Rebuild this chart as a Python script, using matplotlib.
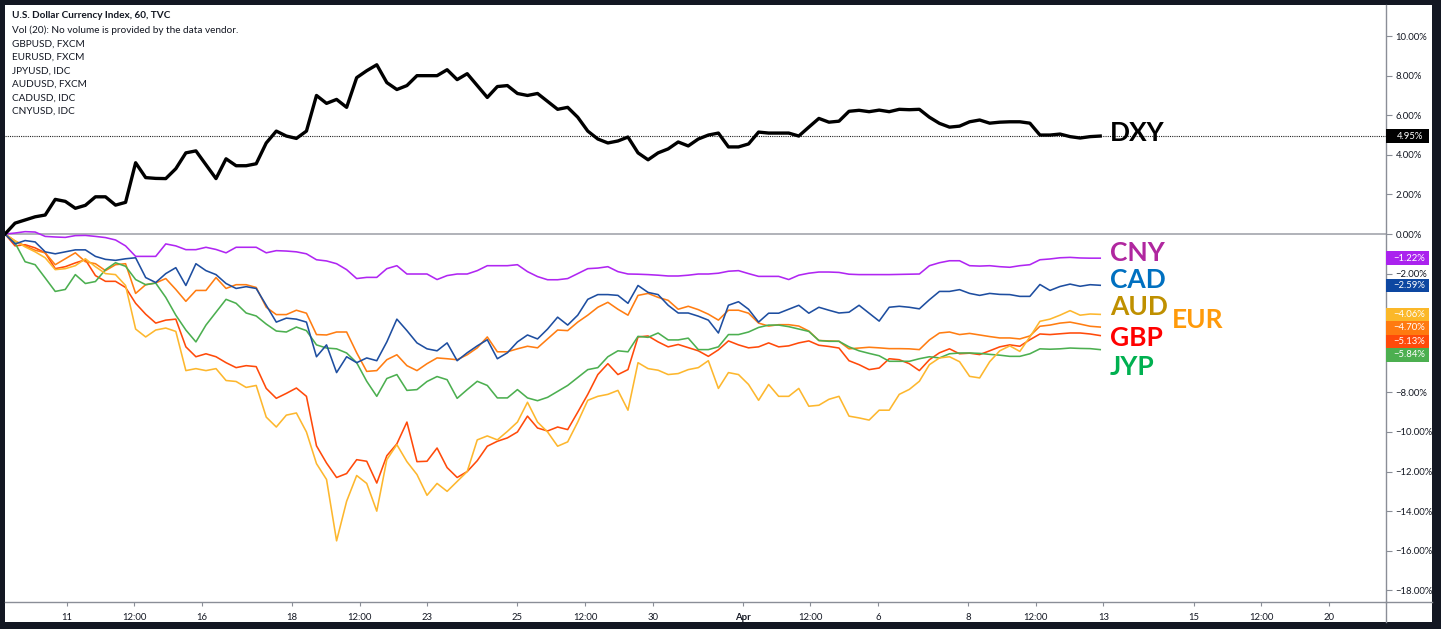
import numpy as np
import matplotlib
matplotlib.use('Agg')
import matplotlib.pyplot as plt
from matplotlib.patches import Rectangle
from matplotlib.lines import Line2D
from matplotlib.transforms import blended_transform_factory

# ---------------- data (percent change, hourly chart) ----------------
# time axis in trading days: 0 = 11 Mar 00:00 ; series sampled evenly from start to last bar
t_start, t_end = -1.367, 22.93

dxy = [0.0, 0.55, 0.71, 0.87, 0.96, 1.75, 1.65, 1.30, 1.45, 1.88,
       1.88, 1.46, 1.6, 3.6, 2.85, 2.81, 2.8, 3.3, 4.1, 4.2,
       3.5, 2.8, 3.8, 3.45, 3.45, 3.55, 4.6, 5.2, 4.95, 4.83,
       5.2, 7.0, 6.6, 6.8, 6.4, 7.9, 8.25, 8.55, 7.65, 7.3,
       7.5, 8.0, 8.0, 8.0, 8.3, 7.8, 8.1, 7.5, 6.9, 7.45,
       7.5, 7.1, 7.0, 7.1, 6.7, 6.3, 6.4, 5.9, 5.2, 4.8,
       4.6, 4.7, 4.9, 4.1, 3.75, 4.1, 4.3, 4.65, 4.45, 4.8,
       5.0, 5.1, 4.4, 4.4, 4.55, 5.15, 5.1, 5.1, 5.1, 4.95,
       5.4, 5.84, 5.65, 5.7, 6.2, 6.25, 6.18, 6.26, 6.18, 6.3,
       6.28, 6.3, 5.9, 5.59, 5.4, 5.45, 5.67, 5.76, 5.6, 5.65,
       5.67, 5.67, 5.6, 5.0, 5.0, 5.05, 4.92, 4.85, 4.92, 4.95]

gbp = [0.0, -0.6, -0.54, -0.7, -0.95, -1.75, -1.65, -1.46, -1.3, -2.1,
       -2.39, -2.39, -2.7, -3.5, -4.05, -4.5, -4.35, -4.3, -5.7, -6.2,
       -6.05, -6.2, -6.5, -6.75, -6.65, -6.7, -7.8, -8.3, -8.05, -7.78,
       -8.2, -10.7, -11.57, -12.3, -12.1, -11.4, -11.48, -12.58, -11.2, -10.6,
       -9.5, -11.5, -11.48, -10.81, -11.8, -12.3, -12.0, -11.45, -10.72, -10.47,
       -10.3, -10.0, -9.2, -9.8, -9.95, -9.75, -9.88, -9.0, -8.1, -7.1,
       -6.55, -7.1, -6.85, -5.2, -5.15, -5.45, -5.7, -5.58, -5.74, -5.9,
       -6.18, -5.85, -5.4, -5.6, -5.75, -5.7, -5.5, -5.7, -5.65, -5.5,
       -5.4, -5.62, -5.68, -5.76, -6.4, -6.6, -6.85, -6.77, -6.3, -6.35,
       -6.55, -6.9, -6.35, -6.0, -5.8, -6.05, -6.02, -6.09, -5.9, -5.7,
       -5.6, -5.67, -5.34, -5.05, -5.08, -5.04, -5.0, -5.0, -5.05, -5.13]

eur = [0.0, -0.35, -0.6, -0.82, -0.95, -1.55, -1.25, -0.95, -1.4, -1.5,
       -1.85, -1.55, -1.5, -3.0, -2.56, -2.47, -2.25, -2.8, -3.4, -2.85,
       -2.85, -2.2, -2.75, -2.56, -2.56, -2.7, -3.7, -4.07, -4.07, -3.85,
       -4.0, -5.08, -5.1, -4.95, -4.95, -6.0, -6.94, -6.9, -6.35, -6.1,
       -6.65, -6.9, -6.55, -6.26, -6.3, -6.35, -6.1, -5.75, -5.2, -5.95,
       -5.95, -5.8, -5.67, -5.75, -5.3, -4.85, -4.88, -4.45, -4.1, -3.7,
       -3.45, -3.8, -4.1, -3.1, -3.0, -3.2, -3.35, -3.8, -3.65, -3.82,
       -4.05, -4.35, -3.85, -3.85, -4.0, -4.5, -4.65, -4.58, -4.58, -4.65,
       -4.9, -5.38, -5.4, -5.42, -5.8, -5.76, -5.72, -5.75, -5.79, -5.79,
       -5.8, -5.84, -5.35, -5.0, -4.95, -5.08, -5.02, -5.1, -5.18, -5.25,
       -5.25, -5.3, -5.15, -4.66, -4.6, -4.5, -4.45, -4.55, -4.66, -4.70]

jpy = [0.0, -0.45, -1.4, -1.55, -2.22, -2.9, -2.8, -2.05, -2.5, -2.4,
       -1.8, -1.45, -1.63, -2.3, -2.56, -2.48, -3.2, -4.1, -4.85, -5.45,
       -4.6, -3.95, -3.3, -3.5, -3.99, -4.14, -4.55, -4.9, -4.95, -4.7,
       -4.88, -5.6, -5.76, -5.8, -6.01, -6.5, -7.44, -8.2, -7.3, -7.1,
       -7.9, -7.86, -7.45, -7.2, -7.36, -8.3, -7.86, -7.44, -7.65, -8.28,
       -8.28, -7.86, -8.28, -8.42, -8.25, -7.95, -7.65, -7.25, -6.85, -6.75,
       -6.2, -5.9, -5.95, -5.17, -5.22, -5.0, -5.35, -5.35, -5.26, -5.84,
       -5.84, -5.7, -5.08, -5.08, -4.95, -4.72, -4.6, -4.6, -4.68, -4.8,
       -4.92, -5.38, -5.42, -5.42, -5.7, -5.9, -6.03, -6.15, -6.43, -6.43,
       -6.43, -6.3, -6.2, -6.26, -6.05, -6.01, -6.01, -6.03, -6.08, -6.12,
       -6.18, -6.18, -6.05, -5.8, -5.82, -5.8, -5.76, -5.78, -5.79, -5.84]

aud = [0.0, -0.35, -0.65, -0.9, -1.2, -1.8, -1.75, -1.6, -1.25, -1.65,
       -2.0, -2.05, -2.6, -4.8, -5.2, -4.85, -4.75, -4.92, -6.9, -6.8,
       -6.9, -6.8, -7.4, -7.45, -7.75, -7.65, -9.25, -9.75, -9.15, -9.04,
       -10.0, -11.6, -12.4, -15.5, -13.5, -12.2, -12.6, -14.0, -11.4, -10.64,
       -11.5, -12.15, -13.2, -12.6, -13.0, -12.5, -12.0, -10.4, -10.2, -10.4,
       -9.97, -9.5, -8.5, -9.5, -10.0, -10.72, -10.5, -9.5, -8.4, -8.2,
       -8.1, -7.9, -8.9, -6.5, -6.8, -6.88, -7.1, -7.05, -6.85, -6.75,
       -6.4, -7.8, -7.0, -7.1, -7.6, -8.4, -7.6, -8.2, -8.2, -7.8,
       -8.7, -8.65, -8.35, -8.2, -9.2, -9.29, -9.4, -8.9, -8.9, -8.1,
       -7.85, -7.44, -6.6, -6.26, -6.2, -6.45, -7.19, -7.27, -6.45, -5.9,
       -5.65, -5.93, -5.2, -4.41, -4.3, -4.1, -3.87, -4.1, -4.04, -4.06]

cad = [0.0, -0.5, -0.33, -0.4, -0.9, -1.0, -0.9, -0.8, -0.8, -1.13,
       -1.28, -1.33, -1.25, -1.2, -2.2, -2.45, -2.0, -1.7, -2.6, -1.5,
       -1.85, -2.05, -2.5, -2.75, -2.66, -2.75, -3.6, -4.45, -4.25, -4.3,
       -4.45, -6.2, -5.6, -7.0, -6.2, -6.5, -6.26, -6.4, -5.45, -4.3,
       -4.88, -5.5, -5.8, -5.9, -5.5, -6.4, -6.0, -5.65, -5.34, -6.3,
       -6.0, -5.45, -5.1, -5.3, -4.8, -4.2, -4.6, -4.1, -3.3, -3.06,
       -3.06, -3.1, -3.5, -2.6, -2.95, -3.06, -3.6, -3.99, -3.99, -4.15,
       -4.35, -5.0, -3.6, -3.42, -3.8, -4.45, -4.0, -4.0, -3.8, -3.6,
       -4.0, -3.7, -3.85, -3.99, -3.95, -3.6, -4.0, -4.4, -3.7, -3.65,
       -3.7, -3.78, -3.32, -2.9, -2.9, -2.81, -3.0, -3.1, -3.0, -3.05,
       -3.06, -3.15, -3.15, -2.55, -2.85, -2.65, -2.53, -2.64, -2.56, -2.59]

cny = [0.0, 0.05, 0.12, 0.1, -0.12, -0.15, -0.17, -0.08, -0.07, -0.12,
       -0.18, -0.3, -0.6, -1.13, -1.13, -1.13, -0.5, -0.6, -0.79, -0.79,
       -0.67, -0.78, -0.95, -0.67, -0.67, -0.67, -0.95, -0.84, -0.86, -0.9,
       -1.0, -1.3, -1.36, -1.5, -1.8, -2.25, -2.19, -2.19, -1.75, -1.6,
       -2.02, -2.02, -2.02, -2.3, -2.1, -2.02, -2.02, -1.85, -1.6, -1.6,
       -1.6, -1.55, -1.9, -2.15, -2.31, -2.31, -2.25, -2.0, -1.75, -1.72,
       -1.65, -1.9, -2.02, -2.03, -2.05, -2.08, -2.12, -2.12, -2.08, -2.02,
       -2.02, -1.98, -1.88, -1.85, -2.0, -2.14, -2.14, -2.14, -2.3, -2.08,
       -1.98, -1.92, -1.92, -1.94, -2.03, -2.05, -2.05, -2.05, -2.05, -2.04,
       -2.03, -2.02, -1.6, -1.45, -1.35, -1.35, -1.6, -1.62, -1.6, -1.65,
       -1.68, -1.6, -1.55, -1.3, -1.26, -1.2, -1.18, -1.21, -1.22, -1.22]

# x-axis ticks (trading-day positions) and labels
tick_pos = [0, 1.5, 3, 5, 6.5, 8, 10, 11.5, 13, 15, 16.5, 18, 20, 21.5, 23, 25, 26.5, 28]
tick_lab = ['11', '12:00', '16', '18', '12:00', '23', '25', '12:00', '30', 'Apr',
            '12:00', '6', '8', '12:00', '13', '15', '12:00', '20']
y_ticks = list(range(-18, 11, 2))

header = ['U.S. Dollar Currency Index, 60, TVC',
          'Vol (20): No volume is provided by the data vendor.',
          'GBPUSD, FXCM', 'EURUSD, FXCM', 'JPYUSD, IDC',
          'AUDUSD, FXCM', 'CADUSD, IDC', 'CNYUSD, IDC']

# ---------------- figure ----------------
W, H = 1441, 629
fig = plt.figure(figsize=(W / 100, H / 100), dpi=100, facecolor='#131722')
fig.patches.append(Rectangle((5 / W, 7 / H), 1427 / W, 617 / H, transform=fig.transFigure,
                             facecolor='white', edgecolor='none', zorder=-5))

ax = fig.add_axes([5 / W, 27 / H, 1381 / W, 597 / H])
ax.set_facecolor('white')
t = np.linspace(t_start, t_end, len(dxy))

ax.set_xlim(-1.367, 29.27)
ax.set_ylim(-18.59, 11.57)

axis_col = '#8a8e97'
for s in ['top', 'left']:
    ax.spines[s].set_visible(False)
for s in ['bottom', 'right']:
    ax.spines[s].set_color(axis_col)
    ax.spines[s].set_linewidth(1.0)

# extend axis lines across the price / time scales
fig.add_artist(Line2D([1386 / W, 1386 / W], [7 / H, 27 / H], color=axis_col, lw=1.0))
fig.add_artist(Line2D([1386 / W, 1432 / W], [27 / H, 27 / H], color=axis_col, lw=1.0))

ax.axhline(0, color='#a3a6ad', lw=1.2, zorder=1)
ax.axhline(dxy[-1], color='#222222', lw=0.8, ls=(0, (1, 1)), zorder=1)

series = [('GBP', gbp, '#ff4a0a'), ('EUR', eur, '#ff7d12'), ('JPY', jpy, '#4caf50'),
          ('AUD', aud, '#fdb72e'), ('CAD', cad, '#1e4ea0'), ('CNY', cny, '#b026f2')]
for name, vals, col in series:
    ax.plot(t, vals, color=col, lw=1.15, zorder=3)
ax.plot(t, dxy, color='black', lw=2.4, zorder=4, solid_joinstyle='round')

font = 'Lato'
# ticks
ax.set_xticks(tick_pos)
ax.set_xticklabels(tick_lab)
for lab in ax.get_xticklabels():
    if lab.get_text() == 'Apr':
        lab.set_fontweight('bold')
ax.tick_params(axis='x', length=3, color=axis_col, labelsize=6.8, pad=5,
               labelcolor='#131722', labelfontfamily=font)
ax.yaxis.tick_right()
ax.set_yticks(y_ticks)
ax.set_yticklabels([f"{v:.2f}%".replace('-', '\u2212') for v in y_ticks])
ax.tick_params(axis='y', length=4, color=axis_col, labelsize=6.8, pad=3,
               labelcolor='#131722', labelfontfamily=font)

# header text
for i, line in enumerate(header):
    y = 15.5 + (15 if i >= 1 else 0) + max(i - 1, 0) * 13.5
    fig.text(12 / W, 1 - y / H, line, fontsize=7.2, family=font, color='#131722',
             fontweight='bold' if i == 0 else 'normal', va='center', ha='left')

# value boxes on price scale
trans = blended_transform_factory(ax.transAxes, ax.transData)
px_per_pct = 597 / (11.57 + 18.59)
box_h = 13.5 / px_per_pct
bx0 = 1.0
bw = 43 / 1381


def box(val, ypos, col):
    ax.add_patch(Rectangle((bx0, ypos - box_h / 2), bw, box_h, transform=trans,
                           facecolor=col, edgecolor='none', clip_on=False, zorder=20))
    ax.text(bx0 + bw / 2 + 0.0015, ypos, f"{val:.2f}%".replace('-', '\u2212'), transform=trans,
            color='white', fontsize=6.8, family=font, ha='center', va='center',
            clip_on=False, zorder=21)


box(dxy[-1], dxy[-1], 'black')
ends = [(cny[-1], '#aa22ee'), (cad[-1], '#0d47a1'), (aud[-1], '#fbb829'),
        (eur[-1], '#ff7a10'), (gbp[-1], '#ff4a0a'), (jpy[-1], '#4caf50')]
last = None
for val, col in ends:
    ypos = val
    if last is not None and last - ypos < box_h:
        ypos = last - box_h
    box(val, ypos, col)
    last = ypos

# big series labels
lab_kw = dict(family=font, fontweight='bold', fontsize=19, va='center', ha='left', zorder=10)
x_lab = 23.15
ax.text(x_lab, 5.10, 'DXY', color='black', **lab_kw)
ax.text(x_lab, -0.96, 'CNY', color='#b0279f', **lab_kw)
ax.text(x_lab, -2.32, 'CAD', color='#0070c0', **lab_kw)
ax.text(x_lab, -3.69, 'AUD', color='#bf9000', **lab_kw)
ax.text(24.53, -4.34, 'EUR', color='#ff9a0a', **lab_kw)
ax.text(x_lab, -5.25, 'GBP', color='#ff0000', **lab_kw)
ax.text(x_lab, -6.72, 'JYP', color='#00b050', **lab_kw)

fig.savefig('out.png', dpi=100, facecolor=fig.get_facecolor())
